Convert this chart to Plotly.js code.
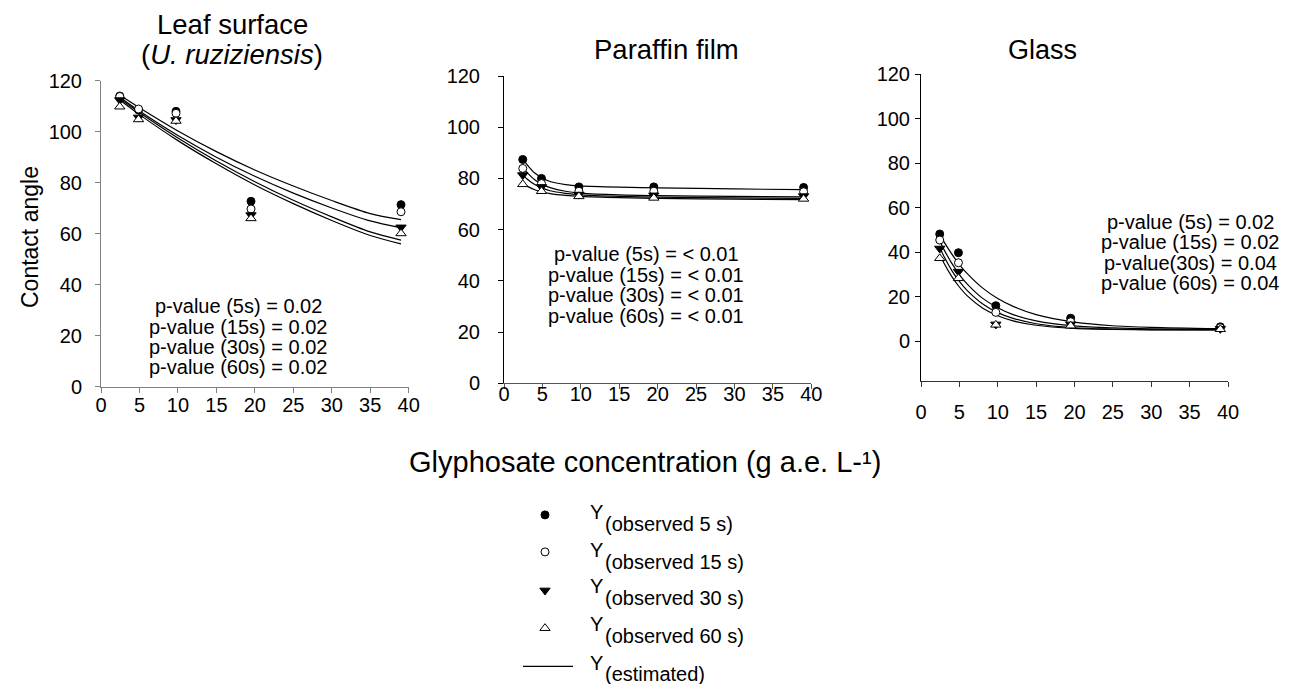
<!DOCTYPE html>
<html>
<head>
<meta charset="utf-8">
<script src="https://cdn.plot.ly/plotly-3.0.1.min.js"></script>
<style>html,body{margin:0;padding:0;background:#fff;}#chart{width:1292px;height:684px;}</style>
</head>
<body>
<div id="chart"></div>
<script>
// ---------- DATA ----------
const conc = [2.44, 4.88, 9.75, 19.5, 39];

const leaf5  = [114.0, 108.5, 108.0, 72.7, 71.4];
const leaf15 = [113.8, 108.9, 107.2, 69.7, 68.6];
const leaf30 = [112.4, 105.6, 104.6, 67.3, 62.5];
const leaf60 = [109.8, 104.8, 104.2, 66.0, 60.1];

const par5  = [87.4, 80.0, 76.7, 76.7, 76.5];
const par15 = [83.9, 78.0, 75.0, 75.0, 74.8];
const par30 = [81.3, 76.7, 73.7, 73.4, 73.1];
const par60 = [77.7, 75.0, 73.0, 72.4, 72.0];

const glass5  = [48.1, 39.7, 15.9, 10.3, 6.4];
const glass15 = [45.4, 35.2, 12.9, 8.7, 6.0];
const glass30 = [41.6, 31.2, 7.5, 7.5, 5.5];
const glass60 = [37.2, 28.2, 7.3, 6.9, 5.3];

// estimated (fitted) curves
const leafFitX  = [2.44, 5, 10, 15, 20, 25, 30, 35, 39];
const leafFit5  = [114.4, 109.4, 100.3, 92.2, 85.0, 78.7, 73.0, 67.9, 65.5];
const leafFit15 = [113.5, 108.1, 98.5, 90.0, 82.5, 75.9, 70.1, 65.0, 62.3];
const leafFit30 = [113.0, 107.5, 97.5, 88.5, 80.4, 73.1, 66.6, 60.7, 57.5];
const leafFit60 = [112.4, 106.7, 96.5, 87.4, 79.1, 71.8, 65.2, 59.3, 56.0];

const parFitX  = [2.44, 3, 4, 5, 6, 8, 10, 15, 20, 30, 39];
const parFit5  = [87.5, 85.4, 82.1, 80.2, 78.8, 77.6, 77.1, 76.6, 76.3, 75.9, 75.6];
const parFit15 = [84.0, 82.3, 79.5, 77.6, 76.4, 75.0, 74.3, 73.6, 73.3, 73.0, 72.8];
const parFit30 = [81.3, 79.8, 77.6, 76.2, 75.2, 74.2, 73.6, 73.0, 72.7, 72.4, 72.2];
const parFit60 = [78.0, 77.0, 75.6, 74.7, 74.1, 73.4, 73.0, 72.5, 72.2, 71.9, 71.7];

const glassFitX  = [2.44, 3, 4, 5, 6, 8, 10, 12, 15, 20, 25, 30, 39];
const glassFit5  = [48.1, 44.6, 39.2, 34.4, 30.4, 23.9, 19.1, 15.6, 11.9, 8.5, 6.9, 6.2, 5.6];
const glassFit15 = [45.0, 41.1, 35.0, 29.9, 25.7, 19.3, 15.0, 11.9, 9.1, 6.8, 5.9, 5.5, 5.3];
const glassFit30 = [42.0, 38.0, 31.8, 26.8, 22.8, 16.8, 12.8, 10.2, 7.8, 6.0, 5.4, 5.1, 5.0];
const glassFit60 = [39.0, 35.0, 29.1, 24.3, 20.4, 14.9, 11.4, 9.1, 7.1, 5.7, 5.2, 5.05, 5.0];

const panelTitles = ['Leaf surface', '(<i>U. ruziziensis</i>)', 'Paraffin film', 'Glass'];
const pLeaf  = ['p-value (5s) = 0.02', 'p-value (15s) = 0.02', 'p-value (30s) = 0.02', 'p-value (60s) = 0.02'];
const pPar   = ['p-value (5s) = < 0.01', 'p-value (15s) = < 0.01', 'p-value (30s) = < 0.01', 'p-value (60s) = < 0.01'];
const pGlass = ['p-value (5s) = 0.02', 'p-value (15s) = 0.02', 'p-value(30s) = 0.04', 'p-value (60s) = 0.04'];
const legendSub = ['(observed 5 s)', '(observed 15 s)', '(observed 30 s)', '(observed 60 s)', '(estimated)'];
const xTitle = 'Glyphosate concentration (g a.e. L-¹)';
const yTitle = 'Contact angle';
const xTicks = [0, 5, 10, 15, 20, 25, 30, 35, 40];
const yTicks = [0, 20, 40, 60, 80, 100, 120];

// ---------- LAYOUT HELPERS ----------
const W = 1292, H = 684;
const PX = p => p / W;
const PY = p => 1 - p / H;
const FONT = 'Liberation Sans, Arial, sans-serif';

const series = [
  {marker: {symbol: 'circle', size: 8, color: '#000', line: {color: '#000', width: 1}}},
  {marker: {symbol: 'circle', size: 8, color: '#fff', line: {color: '#000', width: 1}}},
  {marker: {symbol: 'triangle-down', size: 9, color: '#000', line: {color: '#000', width: 1}}},
  {marker: {symbol: 'triangle-up', size: 9, color: '#fff', line: {color: '#000', width: 1}}}
];

const panels = [
  {xa: 'x',  ya: 'y',  obs: [leaf5, leaf15, leaf30, leaf60], fx: leafFitX, fit: [leafFit5, leafFit15, leafFit30, leafFit60]},
  {xa: 'x2', ya: 'y2', obs: [par5, par15, par30, par60], fx: parFitX, fit: [parFit5, parFit15, parFit30, parFit60]},
  {xa: 'x3', ya: 'y3', obs: [glass5, glass15, glass30, glass60], fx: glassFitX, fit: [glassFit5, glassFit15, glassFit30, glassFit60]}
];

const legendNames = ['legend', 'legend2', 'legend3', 'legend4', 'legend5'];
const traces = [];
panels.forEach((p, pi) => {
  p.fit.forEach((f, i) => {
    traces.push({
      type: 'scatter', mode: 'lines', x: p.fx, y: f, xaxis: p.xa, yaxis: p.ya,
      line: {color: '#000', width: 1.2, shape: 'spline', smoothing: 0.8},
      name: ' ', legend: 'legend5', showlegend: (pi === 0 && i === 0), hoverinfo: 'skip'
    });
  });
});
panels.forEach((p, pi) => {
  p.obs.forEach((vals, i) => {
    traces.push({
      type: 'scatter', mode: 'markers', x: conc, y: vals, xaxis: p.xa, yaxis: p.ya,
      marker: series[i].marker, name: ' ', legend: legendNames[i],
      showlegend: pi === 0, cliponaxis: false
    });
  });
});

function xaxis(domain, color, standoff, anchor) {
  return {domain: domain, range: [0, 40], tickvals: xTicks, ticktext: xTicks.map(String),
    showline: true, linecolor: color, linewidth: 1, ticks: 'outside', ticklen: 5, tickcolor: color,
    showgrid: false, zeroline: false, tickfont: {family: FONT, size: 20, color: '#000'},
    ticklabelstandoff: standoff, anchor: anchor, fixedrange: true};
}
function yaxis(domain, range, color, standoff, anchor) {
  return {domain: domain, range: range, tickvals: yTicks, ticktext: yTicks.map(String),
    showline: true, linecolor: color, linewidth: 1, ticks: 'outside', ticklen: 5, tickcolor: color,
    showgrid: false, zeroline: false, tickfont: {family: FONT, size: 20, color: '#000'},
    ticklabelstandoff: standoff, anchor: anchor, fixedrange: true};
}

const annotations = [];
function addText(text, x, y, size, opts) {
  annotations.push(Object.assign({text: text, x: PX(x), y: PY(y), xref: 'paper', yref: 'paper',
    showarrow: false, xanchor: 'center', yanchor: 'middle',
    font: {family: FONT, size: size, color: '#000'}}, opts || {}));
}
addText(panelTitles[0], 232, 24, 27.5);
addText(panelTitles[1], 232, 55, 27.5);
addText(panelTitles[2], 666, 50, 27.5);
addText(panelTitles[3], 1042, 50, 27);
pLeaf.forEach((t, i) => addText(t, 238, 306 + i * 20.5, 20));
pPar.forEach((t, i) => addText(t, 646, 254 + i * 20.7, 20));
pGlass.forEach((t, i) => addText(t, 1190, 222 + i * 20.3, 20));
addText(xTitle, 645, 462, 29);
addText(yTitle, 30, 237, 23, {textangle: -90});

const legY = [515, 552, 590.5, 628.3, 666.5];
const yLetterY = [511.7, 550, 586, 623.5, 663];
const subY = [524, 562, 598, 636, 674];
legendSub.forEach((t, i) => {
  addText('Y', 588, yLetterY[i], 20, {xanchor: 'left'});
  addText(t, 603, subY[i], 20, {xanchor: 'left'});
});

const layout = {
  width: W, height: H, margin: {l: 0, r: 0, t: 0, b: 0},
  paper_bgcolor: '#fff', plot_bgcolor: 'rgba(0,0,0,0)',
  font: {family: FONT, color: '#000'},
  xaxis:  xaxis([PX(101), PX(408.7)], '#808080', -5, 'y'),
  yaxis:  yaxis([PY(386.7), PY(80.7)], [0, 120], '#808080', 9, 'x'),
  xaxis2: xaxis([PX(504), PX(811.3)], '#555', -12, 'y2'),
  yaxis2: yaxis([PY(383.3), PY(76)], [0, 120], '#000', 14, 'x2'),
  xaxis3: xaxis([PX(921), PX(1228)], '#333', 8, 'y3'),
  yaxis3: yaxis([PY(380.7), PY(74)], [-17.8, 120], '#000', 1, 'x3'),
  annotations: annotations,
  showlegend: true
};

legendNames.forEach((ln, i) => {
  layout[ln] = {x: PX(525), y: PY(legY[i]), xanchor: 'left', yanchor: 'middle',
    bgcolor: 'rgba(0,0,0,0)', borderwidth: 0, font: {family: FONT, size: 16},
    itemclick: false, itemdoubleclick: false};
});
layout.legend5.itemwidth = 50;
layout.legend5.x = PX(518);

Plotly.newPlot('chart', traces, layout, {displayModeBar: false, staticPlot: true});
</script>
</body>
</html>
